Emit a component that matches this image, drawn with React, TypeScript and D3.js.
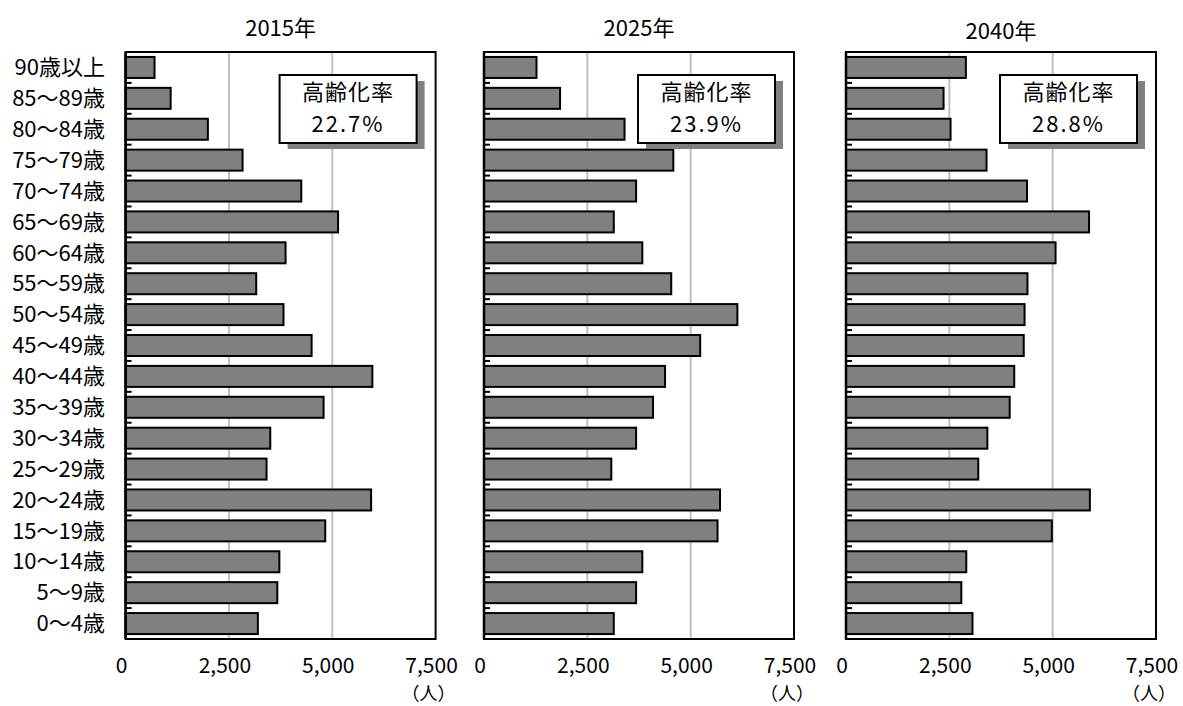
import React from "react";
import * as d3 from "d3";

// Age groups, top to bottom
const ageGroups = [
  "90歳以上", "85～89歳", "80～84歳", "75～79歳", "70～74歳", "65～69歳",
  "60～64歳", "55～59歳", "50～54歳", "45～49歳", "40～44歳", "35～39歳",
  "30～34歳", "25～29歳", "20～24歳", "15～19歳", "10～14歳", "5～9歳", "0～4歳",
];

const years = ["2015年", "2025年", "2040年"];

// Population by age group (persons)
const pop2015 = [700, 1090, 1990, 2830, 4250, 5140, 3870, 3160, 3820, 4500, 5970, 4790, 3500, 3410, 5940, 4830, 3720, 3670, 3200];
const pop2025 = [1270, 1840, 3400, 4580, 3680, 3140, 3830, 4530, 6130, 5230, 4380, 4090, 3680, 3080, 5710, 5650, 3830, 3680, 3140];
const pop2040 = [2900, 2360, 2530, 3400, 4380, 5880, 5070, 4390, 4320, 4300, 4070, 3960, 3420, 3200, 5900, 4980, 2910, 2790, 3060];

// Share of population aged 65+
const agingRates = ["22.7%", "23.9%", "28.8%"];

const xTicks = [0, 2500, 5000, 7500];

const series = [pop2015, pop2025, pop2040];

const FONT = "'Noto Sans CJK JP', 'Noto Sans', sans-serif";

const W = 1183;
const H = 706;
const panelLefts = [125.6, 484, 846];
const panelWidth = 310;
const plotTop = 52;
const plotBottom = 639;

function Panel({ idx }: { idx: number }) {
  const x0 = panelLefts[idx];
  const x = d3.scaleLinear().domain([0, 7500]).range([x0, x0 + panelWidth]);
  const y = d3
    .scaleBand<string>()
    .domain(ageGroups)
    .range([plotTop, plotBottom])
    .paddingInner(0.32)
    .paddingOuter(0.16);
  const step = y.step();
  const values = series[idx];
  const fmt = d3.format(",");

  const boxX = x0 + 154;
  const boxY = 75;
  const boxW = 137;
  const boxH = 68;

  return (
    <g>
      <text
        x={x0 + panelWidth / 2}
        y={idx === 2 ? 39 : 36}
        textAnchor="middle"
        fontSize={22}
        fontFamily={FONT}
        fill="#000"
      >
        {years[idx]}
      </text>

      {/* vertical gridlines */}
      {xTicks.slice(1, -1).map((t) => (
        <line key={t} x1={x(t)} x2={x(t)} y1={plotTop} y2={plotBottom} stroke="#c0c0c0" strokeWidth={2} />
      ))}

      {/* bars */}
      {ageGroups.map((g, i) => (
        <rect
          key={g}
          x={x(0)}
          y={y(g)!}
          width={x(values[i]) - x(0)}
          height={y.bandwidth()}
          fill="#808080"
          stroke="#000"
          strokeWidth={2}
        />
      ))}

      {/* frame */}
      <rect x={x0} y={plotTop} width={panelWidth} height={plotBottom - plotTop} fill="none" stroke="#000" strokeWidth={2} />
      <line x1={x0} x2={x0} y1={plotTop} y2={plotBottom} stroke="#000" strokeWidth={2.5} />

      {/* category ticks */}
      {d3.range(ageGroups.length + 1).map((i) => (
        <line
          key={i}
          x1={x0}
          x2={x0 + 6}
          y1={plotTop + i * step}
          y2={plotTop + i * step}
          stroke="#000"
          strokeWidth={2}
        />
      ))}

      {/* x tick labels */}
      {xTicks.map((t) => (
        <text key={t} x={x(t) - 4} y={673} textAnchor="middle" fontSize={21} fontFamily={FONT} fill="#000">
          {fmt(t)}
        </text>
      ))}
      <text x={x0 + panelWidth - 7} y={700} textAnchor="middle" fontSize={18} fontFamily={FONT} fill="#000">
        （人）
      </text>

      {/* aging-rate box */}
      <rect x={boxX + 8} y={boxY + 6} width={boxW} height={boxH} fill="#808080" />
      <rect x={boxX} y={boxY} width={boxW} height={boxH} fill="#fff" stroke="#000" strokeWidth={2} />
      <text
        x={boxX + boxW / 2}
        y={boxY + 17}
        dy="0.35em"
        textAnchor="middle"
        fontSize={22}
        letterSpacing={1}
        fontFamily={FONT}
        fill="#000"
      >
        高齢化率
      </text>
      <text
        x={boxX + boxW / 2}
        y={boxY + 49}
        dy="0.35em"
        textAnchor="middle"
        fontSize={22}
        letterSpacing={2}
        fontFamily={FONT}
        fill="#000"
      >
        {agingRates[idx]}
      </text>

      {/* y category labels (first panel only) */}
      {idx === 0 &&
        ageGroups.map((g) => (
          <text
            key={g}
            x={105}
            y={y(g)! + y.bandwidth() / 2}
            dy="0.35em"
            textAnchor="end"
            fontSize={22}
            fontFamily={FONT}
            fill="#000"
          >
            {g}
          </text>
        ))}
    </g>
  );
}

export default function App() {
  return (
    <svg width={W} height={H} style={{ display: "block", position: "absolute", left: 0, top: 0, background: "#fff" }}>
      <rect width={W} height={H} fill="#fff" />
      {years.map((_, i) => (
        <Panel key={i} idx={i} />
      ))}
    </svg>
  );
}
